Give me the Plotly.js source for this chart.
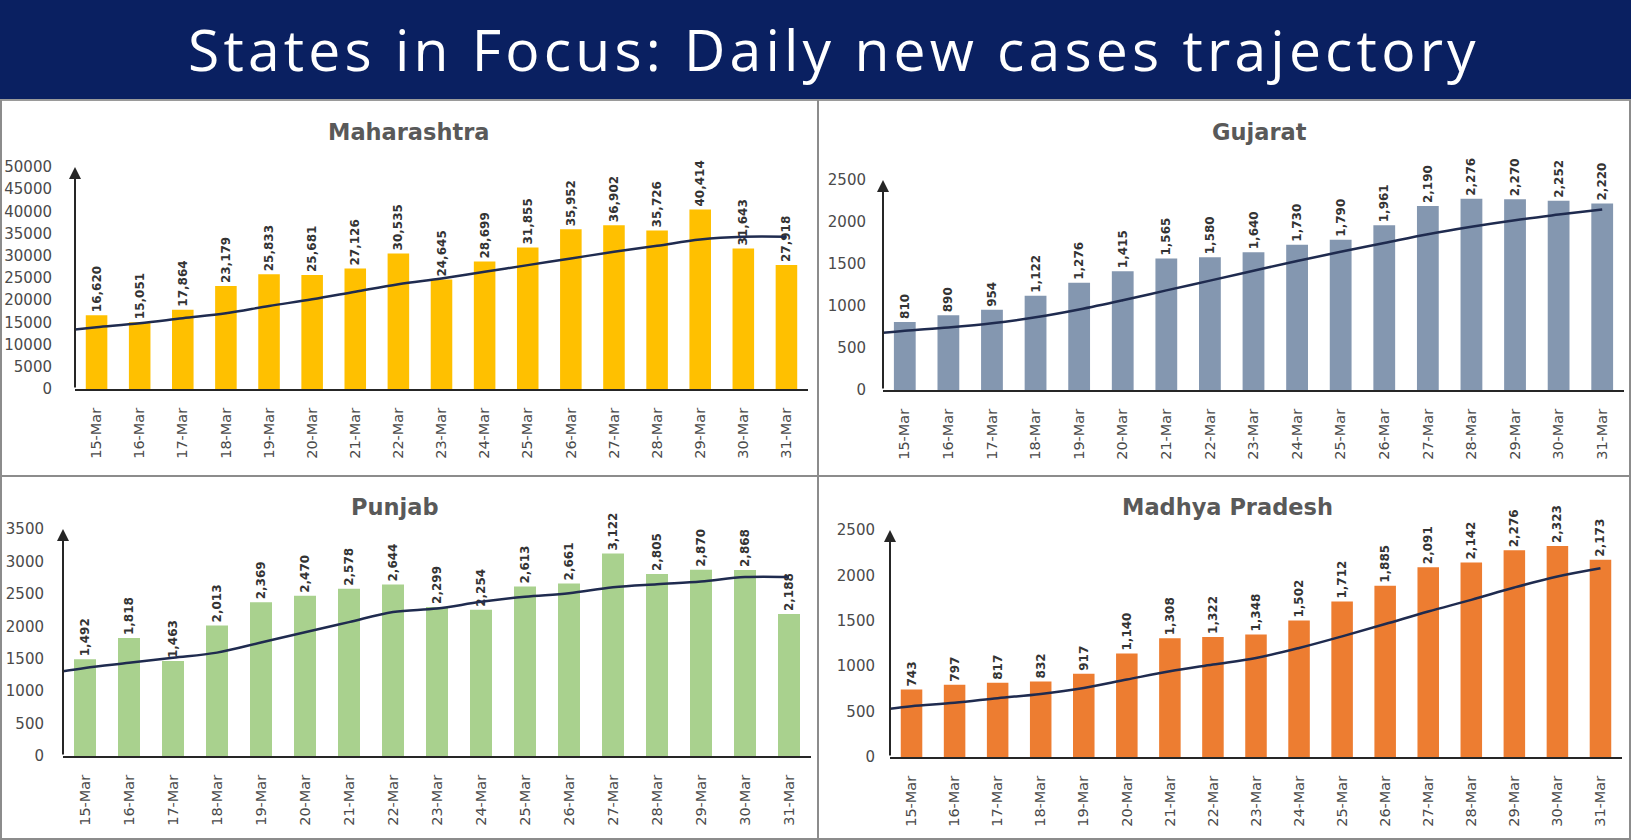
<!DOCTYPE html>
<html>
<head>
<meta charset="utf-8">
<script src="https://cdn.plot.ly/plotly-3.0.1.min.js"></script>
<style>html,body{margin:0;padding:0;background:#fff;}#chart{width:1631px;height:840px;}</style>
</head>
<body>
<div id="chart"></div>
<script>
const dates = ['15-Mar','16-Mar','17-Mar','18-Mar','19-Mar','20-Mar','21-Mar','22-Mar','23-Mar','24-Mar','25-Mar','26-Mar','27-Mar','28-Mar','29-Mar','30-Mar','31-Mar'];

const mahaCases = [16620,15051,17864,23179,25833,25681,27126,30535,24645,28699,31855,35952,36902,35726,40414,31643,27918];
const mahaTrend = [13900,14800,15950,17060,18700,20200,21900,23580,24900,26400,27900,29400,30900,32260,33680,34300,34300];
const mahaTrendStart = 13400;

const gujCases = [810,890,954,1122,1276,1415,1565,1580,1640,1730,1790,1961,2190,2276,2270,2252,2220];
const gujTrend = [705,745,795,865,958,1068,1186,1302,1419,1536,1645,1750,1855,1944,2022,2088,2150];
const gujTrendStart = 680;

const punCases = [1492,1818,1463,2013,2369,2470,2578,2644,2299,2254,2613,2661,3122,2805,2870,2868,2188];
const punTrend = [1358,1437,1515,1594,1750,1907,2064,2220,2273,2377,2455,2508,2602,2649,2690,2759,2759];
const punTrendStart = 1306;

const mpCases = [743,797,817,832,917,1140,1308,1322,1348,1502,1712,1885,2091,2142,2276,2323,2173];
const mpTrend = [560,597,648,695,761,853,944,1018,1091,1201,1329,1464,1603,1731,1867,1988,2079];
const mpTrendStart = 531;

const panelTitles = ['Maharashtra','Gujarat','Punjab','Madhya Pradesh'];
const mainTitle = 'States in Focus: Daily new cases trajectory';
const barColors = ['#FFC000','#8497B0','#A9D18E','#ED7D31'];
const yMax = [50000, 2500, 3500, 2500];
const yStep = [5000, 500, 500, 500];

const W = 1631, H = 840;
const px = v => v / W;
const py = v => 1 - v / H;

// pixel boxes of each plot area: [left, right, bottom(zero), top]
const boxes = [
  [75, 808, 389, 167],
  [883, 1624, 390, 180],
  [63, 811, 756, 529],
  [890, 1622, 757, 530]
];
const titlePos = [[409,132],[1259,132],[395,507],[1227,507]];
const yStandoff = [22, 16, 18, 14];

const seriesCases = [mahaCases, gujCases, punCases, mpCases];
const seriesTrend = [mahaTrend, gujTrend, punTrend, mpTrend];
const trendStarts = [mahaTrendStart, gujTrendStart, punTrendStart, mpTrendStart];

const idx = dates.map((d,i) => i);
const data = [];
const layout = {
  width: W, height: H,
  margin: {l:0, r:0, t:0, b:0},
  paper_bgcolor: '#ffffff',
  plot_bgcolor: 'rgba(0,0,0,0)',
  showlegend: false,
  annotations: [],
  shapes: []
};

for (let k = 0; k < 4; k++) {
  const n = k + 1;
  const xa = 'x' + (n === 1 ? '' : n);
  const ya = 'y' + (n === 1 ? '' : n);
  const xk = 'xaxis' + (n === 1 ? '' : n);
  const yk = 'yaxis' + (n === 1 ? '' : n);
  const b = boxes[k];

  data.push({
    type: 'bar', x: idx, y: seriesCases[k], xaxis: xa, yaxis: ya,
    width: 0.5,
    marker: {color: barColors[k]},
    texttemplate: '%{y:,}',
    textposition: 'outside',
    textangle: -90,
    constraintext: 'none',
    cliponaxis: false,
    textfont: {family: 'DejaVu Sans', size: 12, color: '#333333', weight: 'bold'},
    hoverinfo: 'skip'
  });
  data.push({
    type: 'scatter', mode: 'lines',
    x: [-0.5].concat(idx), y: [trendStarts[k]].concat(seriesTrend[k]),
    xaxis: xa, yaxis: ya,
    line: {shape: 'spline', color: '#1F2B4F', width: 2.5},
    cliponaxis: false,
    hoverinfo: 'skip'
  });

  layout[xk] = {
    domain: [px(b[0]), px(b[1])],
    anchor: ya,
    range: [-0.5, 16.5],
    tickmode: 'array', tickvals: idx, ticktext: dates,
    tickangle: -90,
    tickfont: {family: 'DejaVu Sans', size: 14.5, color: '#4a4a4a'},
    ticks: '', ticklabelstandoff: 11,
    showline: true, linecolor: '#262626', linewidth: 2,
    showgrid: false, zeroline: false, fixedrange: true
  };
  layout[yk] = {
    domain: [py(b[2]), py(b[3])],
    anchor: xa,
    range: [0, yMax[k]],
    dtick: yStep[k], tick0: 0,
    tickformat: 'd',
    tickfont: {family: 'DejaVu Sans', size: 15, color: '#4a4a4a'},
    ticks: '', ticklabelstandoff: yStandoff[k],
    showline: false, showgrid: false, zeroline: false, fixedrange: true
  };

  // y-axis with arrow head
  layout.annotations.push({
    xref: xa + ' domain', yref: ya + ' domain', x: 0, y: 1,
    ax: 0, ay: (b[2] - b[3]), axref: 'pixel', ayref: 'pixel',
    showarrow: true, arrowhead: 2, arrowsize: 1.2, arrowwidth: 2,
    arrowcolor: '#262626', standoff: 0, startstandoff: 0, text: ''
  });
  // panel title
  layout.annotations.push({
    xref: 'paper', yref: 'paper', x: px(titlePos[k][0]), y: py(titlePos[k][1]),
    xanchor: 'center', yanchor: 'middle', showarrow: false,
    text: '<b>' + panelTitles[k] + '</b>',
    font: {family: 'DejaVu Sans', size: 22.5, color: '#595959'}
  });
}

// header band & main title
layout.shapes.push({type:'rect', xref:'paper', yref:'paper', x0:0, x1:1, y0:py(99), y1:1, fillcolor:'#0A2061', line:{width:0}, layer:'below'});
layout.shapes.push({type:'line', xref:'paper', yref:'paper', x0:0, x1:1, y0:py(100), y1:py(100), line:{color:'#9a9a9a', width:2}});
layout.annotations.push({
  xref:'paper', yref:'paper', x: px(834), y: py(49), xanchor:'center', yanchor:'middle', showarrow:false,
  text: '<span style="letter-spacing:4.2px">' + mainTitle + '</span>',
  font: {family: 'Open Sans', size: 57, color: '#ffffff'}
});
// panel borders
const grey = {color:'#8c8c8c', width:2};
layout.shapes.push({type:'line', xref:'paper', yref:'paper', x0:px(818), x1:px(818), y0:0, y1:py(100), line:grey});
layout.shapes.push({type:'line', xref:'paper', yref:'paper', x0:0, x1:1, y0:py(476), y1:py(476), line:grey});
layout.shapes.push({type:'line', xref:'paper', yref:'paper', x0:px(1), x1:px(1), y0:0, y1:py(100), line:grey});
layout.shapes.push({type:'line', xref:'paper', yref:'paper', x0:px(1630), x1:px(1630), y0:0, y1:py(100), line:grey});
layout.shapes.push({type:'line', xref:'paper', yref:'paper', x0:0, x1:1, y0:py(839), y1:py(839), line:grey});

Plotly.newPlot('chart', data, layout, {staticPlot: true, displayModeBar: false});
</script>
</body>
</html>
